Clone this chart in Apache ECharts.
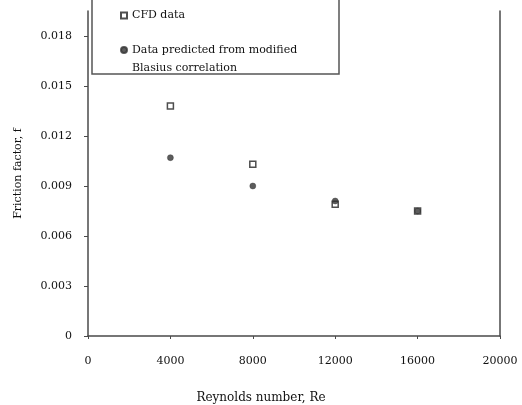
<!DOCTYPE html>
<html>
<head>
<meta charset="utf-8">
<script src="https://cdn.jsdelivr.net/npm/echarts@6/dist/echarts.min.js"></script>
<style>html,body{margin:0;padding:0;background:#fff;}#c{width:522px;height:405px;}</style>
</head>
<body>
<div id="c"></div>
<script>
const reynolds = [4000, 8000, 12000, 16000];
const cfdData = [0.0138, 0.0103, 0.0079, 0.0075];
const predicted = [0.0107, 0.0090, 0.0081, 0.0075];
const xTicks = [0, 4000, 8000, 12000, 16000, 20000];
const yTicks = [0, 0.003, 0.006, 0.009, 0.012, 0.015, 0.018];
const cfdName = 'CFD data';
const predName = 'Data predicted from modified Blasius correlation';

const font = 'DejaVu Serif';
const axisColor = '#4a4a4a';
const textColor = '#111';
const chart = echarts.init(document.getElementById('c'));
chart.setOption({
  backgroundColor: '#fff',
  animation: false,
  grid: { left: 88, right: 22, top: 11, bottom: 69, outerBoundsMode: 'none', containLabel: false },
  xAxis: {
    type: 'value', min: xTicks[0], max: xTicks[xTicks.length - 1], interval: 4000,
    name: 'Reynolds number, Re', nameLocation: 'middle', nameGap: 56,
    nameTextStyle: { fontFamily: font, fontSize: 12, color: textColor, padding: [0, 66, 0, 0] },
    axisLine: { show: true, onZero: false, lineStyle: { color: axisColor, width: 1.5 } },
    axisTick: { show: true, length: 3, lineStyle: { color: axisColor } },
    axisLabel: { margin: 20, fontFamily: font, fontSize: 11, color: textColor, formatter: v => String(v) },
    splitLine: { show: false }
  },
  yAxis: [{
    type: 'value', min: 0, max: 0.0195,
    name: 'Friction factor, f', nameLocation: 'middle', nameGap: 64,
    nameTextStyle: { fontFamily: font, fontSize: 11, color: textColor },
    axisLine: { show: true, lineStyle: { color: axisColor, width: 1.5 } },
    axisTick: { show: true, length: 4, customValues: yTicks, lineStyle: { color: axisColor } },
    axisLabel: { margin: 16, customValues: yTicks, fontFamily: font, fontSize: 11, color: textColor,
      formatter: v => v === 0 ? '0' : v.toFixed(3) },
    splitLine: { show: false }
  }, {
    type: 'value', min: 0, max: 0.0195, position: 'right',
    axisLine: { show: true, lineStyle: { color: axisColor, width: 1.5 } },
    axisTick: { show: false }, axisLabel: { show: false }, splitLine: { show: false }
  }],
  legend: [{
    data: [cfdName], orient: 'vertical', left: 120, top: 10,
    itemWidth: 6, itemHeight: 6, padding: 0,
    textStyle: { fontFamily: font, fontSize: 11, color: textColor }
  }, {
    data: [predName], orient: 'vertical', left: 120, top: 23,
    itemWidth: 6, itemHeight: 6, padding: 0,
    formatter: n => '\n' + n.replace(' Blasius', '\nBlasius'),
    textStyle: { fontFamily: font, fontSize: 11, color: textColor, lineHeight: 18 }
  }],
  graphic: [{
    type: 'rect', z: 0,
    shape: { x: 92, y: -5, width: 247, height: 79 },
    style: { fill: 'none', stroke: '#555', lineWidth: 1.5 }
  }],
  series: [{
    name: cfdName, type: 'scatter', symbol: 'rect', symbolSize: 6,
    itemStyle: { color: '#fff', borderColor: '#222', borderWidth: 1.5 },
    data: reynolds.map((r, i) => [r, cfdData[i]]), z: 2
  }, {
    name: predName, type: 'scatter', symbol: 'circle', symbolSize: 6,
    itemStyle: { color: '#333', borderColor: '#333', borderWidth: 0.5 },
    data: reynolds.map((r, i) => [r, predicted[i]]), z: 3
  }]
});
</script>
</body>
</html>
